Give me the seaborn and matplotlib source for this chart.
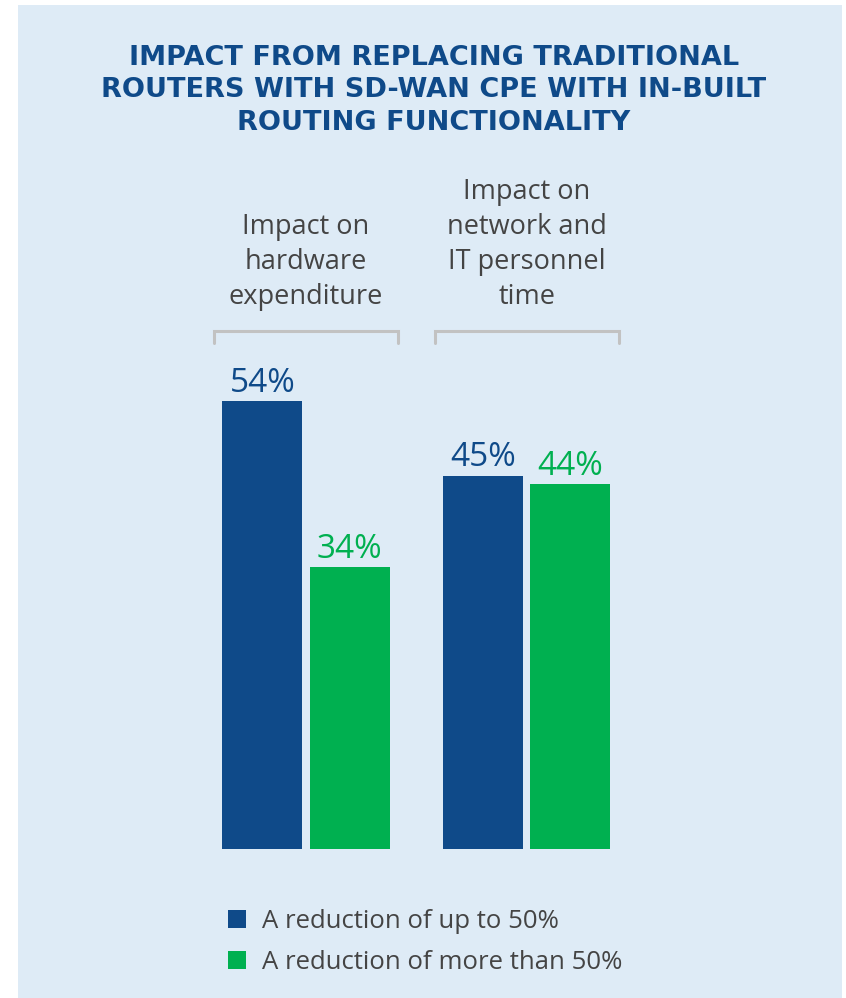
import matplotlib
matplotlib.use("Agg")
import matplotlib.pyplot as plt
from matplotlib.patches import Rectangle
import seaborn as sns
import pandas as pd

# Survey results
categories = ["Impact on\nhardware\nexpenditure",
              "Impact on\nnetwork and\nIT personnel\ntime"]
series = ["A reduction of up to 50%", "A reduction of more than 50%"]
up_to_50 = [54, 45]
more_than_50 = [34, 44]
title = ("IMPACT FROM REPLACING TRADITIONAL\n"
         "ROUTERS WITH SD-WAN CPE WITH IN-BUILT\n"
         "ROUTING FUNCTIONALITY")

BLUE = "#0f4a89"
GREEN = "#00b050"
PANEL = "#deebf6"
TEXT = "#444444"
BRACKET = "#c2c2c2"

df = pd.DataFrame({
    "category": categories * 2,
    "series": [series[0]] * 2 + [series[1]] * 2,
    "value": up_to_50 + more_than_50,
})

sns.set_theme(style="white")
plt.rcParams["font.family"] = ["Open Sans", "DejaVu Sans"]

W, H = 846, 998
fig = plt.figure(figsize=(W / 100, H / 100), dpi=100, facecolor="white")

# light blue panel behind everything
fig.patches.append(Rectangle((18 / W, 0), (842 - 18) / W, 1 - 5 / H,
                             transform=fig.transFigure, facecolor=PANEL,
                             edgecolor="none", zorder=-10))

ax = fig.add_axes([195.7 / W, (H - 849.3) / H, 441.3 / W, 498 / H])
ax.set_zorder(2)
ax.set_facecolor("none")

sns.barplot(data=df, x="category", y="value", hue="series",
            hue_order=series, palette=[BLUE, GREEN], width=0.792, gap=0.085,
            saturation=1, linewidth=0, ax=ax, legend=True)

ax.set_xlim(-0.5, 1.5)
ax.set_ylim(0, 60)
ax.set_xlabel("")
ax.set_ylabel("")
ax.set_xticks([])
ax.set_yticks([])
for s in ax.spines.values():
    s.set_visible(False)

# value labels above the bars
for cont, col in zip(ax.containers, [BLUE, GREEN]):
    ax.bar_label(cont, labels=[f"{v:.0f}%" for v in cont.datavalues],
                 padding=1, color=col, fontsize=24)

# brackets and category headings
for i, cat in enumerate(categories):
    half = 0.417
    ax.plot([i - half, i - half, i + half, i + half],
            [61.0, 62.45, 62.45, 61.0], color=BRACKET, lw=2.2,
            solid_joinstyle="miter", clip_on=False)
    ax.text(i, 64.9, cat, ha="center", va="bottom", fontsize=19.5,
            color=TEXT, linespacing=1.33, clip_on=False)

handles, labels = ax.get_legend_handles_labels()
ax.get_legend().remove()
fig.legend(handles, labels, loc="upper left",
           bbox_to_anchor=(218 / W, 1 - 899 / H), frameon=False,
           fontsize=18.5, labelcolor=TEXT, handlelength=0.7,
           handleheight=0.7, handletextpad=0.6, labelspacing=0.6,
           borderaxespad=0)

fig.text(434 / W, 1 - 45 / H, title, ha="center", va="top",
         fontsize=19.5, fontweight="bold", color=BLUE, linespacing=1.32,
         family=["DejaVu Sans"])

fig.savefig("out.png", dpi=100, facecolor="white")
